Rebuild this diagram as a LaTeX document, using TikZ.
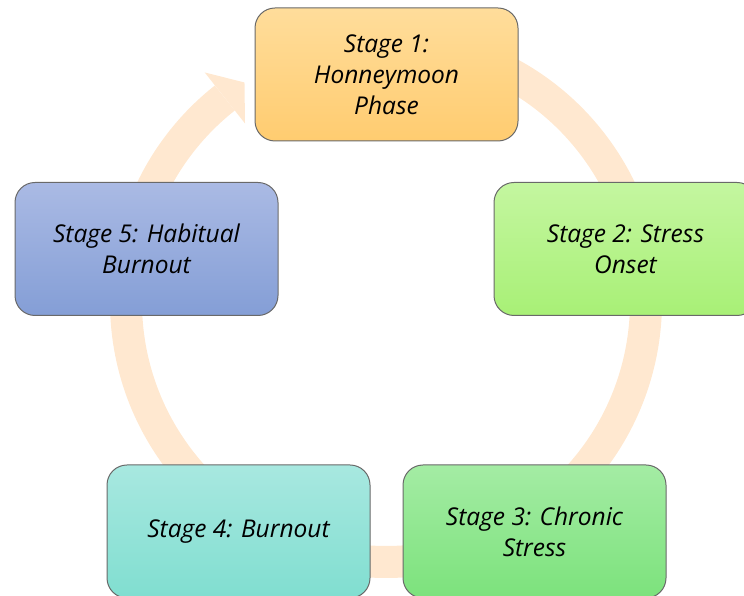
\documentclass[tikz,border=0pt]{standalone}
\usepackage{fontspec}
\setmainfont{Open Sans}
\usetikzlibrary{calc}
\definecolor{ringcol}{RGB}{255,232,208}
\definecolor{boxline}{RGB}{105,105,105}
\definecolor{aT}{RGB}{255,221,155}\definecolor{aB}{RGB}{255,204,112}
\definecolor{bT}{RGB}{196,246,160}\definecolor{bB}{RGB}{168,240,118}
\definecolor{cT}{RGB}{164,236,164}\definecolor{cB}{RGB}{124,226,124}
\definecolor{dT}{RGB}{168,232,224}\definecolor{dB}{RGB}{128,222,208}
\definecolor{eT}{RGB}{170,186,228}\definecolor{eB}{RGB}{132,158,214}
\begin{document}
\begin{tikzpicture}[x=1pt,y=1pt,
  stagebox/.style={draw=boxline, line width=1pt, rounded corners=20pt,
    minimum width=263pt, minimum height=133pt, align=center, inner sep=0pt,
    font=\fontsize{24.5}{31}\selectfont\itshape},
  ring/.style={draw=ringcol, line width=32pt, line cap=butt}]
\useasboundingbox (0,0) rectangle (744,596);
% ring with arrow head
\coordinate (c) at (386,294);
\coordinate (base) at ($(c)+(128.3:260)$);
\draw[ring] (base) arc[start angle=128.3, end angle=455, radius=260];
\fill[ringcol] ($(base)+(128.3:32.5)$) -- ($(base)+(38.3:25)$) -- ($(base)+(-51.7:32.5)$) -- cycle;
% stages
\node[stagebox, top color=aT, bottom color=aB] (s1) at (386.5,521.5) {Stage 1:\\Honneymoon\\Phase};
\node[stagebox, top color=bT, bottom color=bB] (s2) at (625.5,347) {Stage 2: Stress\\Onset};
\node[stagebox, top color=cT, bottom color=cB] (s3) at (534.5,64.5) {Stage 3: Chronic\\Stress};
\node[stagebox, top color=dT, bottom color=dB] (s4) at (238.5,64.5) {Stage 4: Burnout};
\node[stagebox, top color=eT, bottom color=eB] (s5) at (146.5,347) {Stage 5: Habitual\\Burnout};
\end{tikzpicture}
\end{document}
